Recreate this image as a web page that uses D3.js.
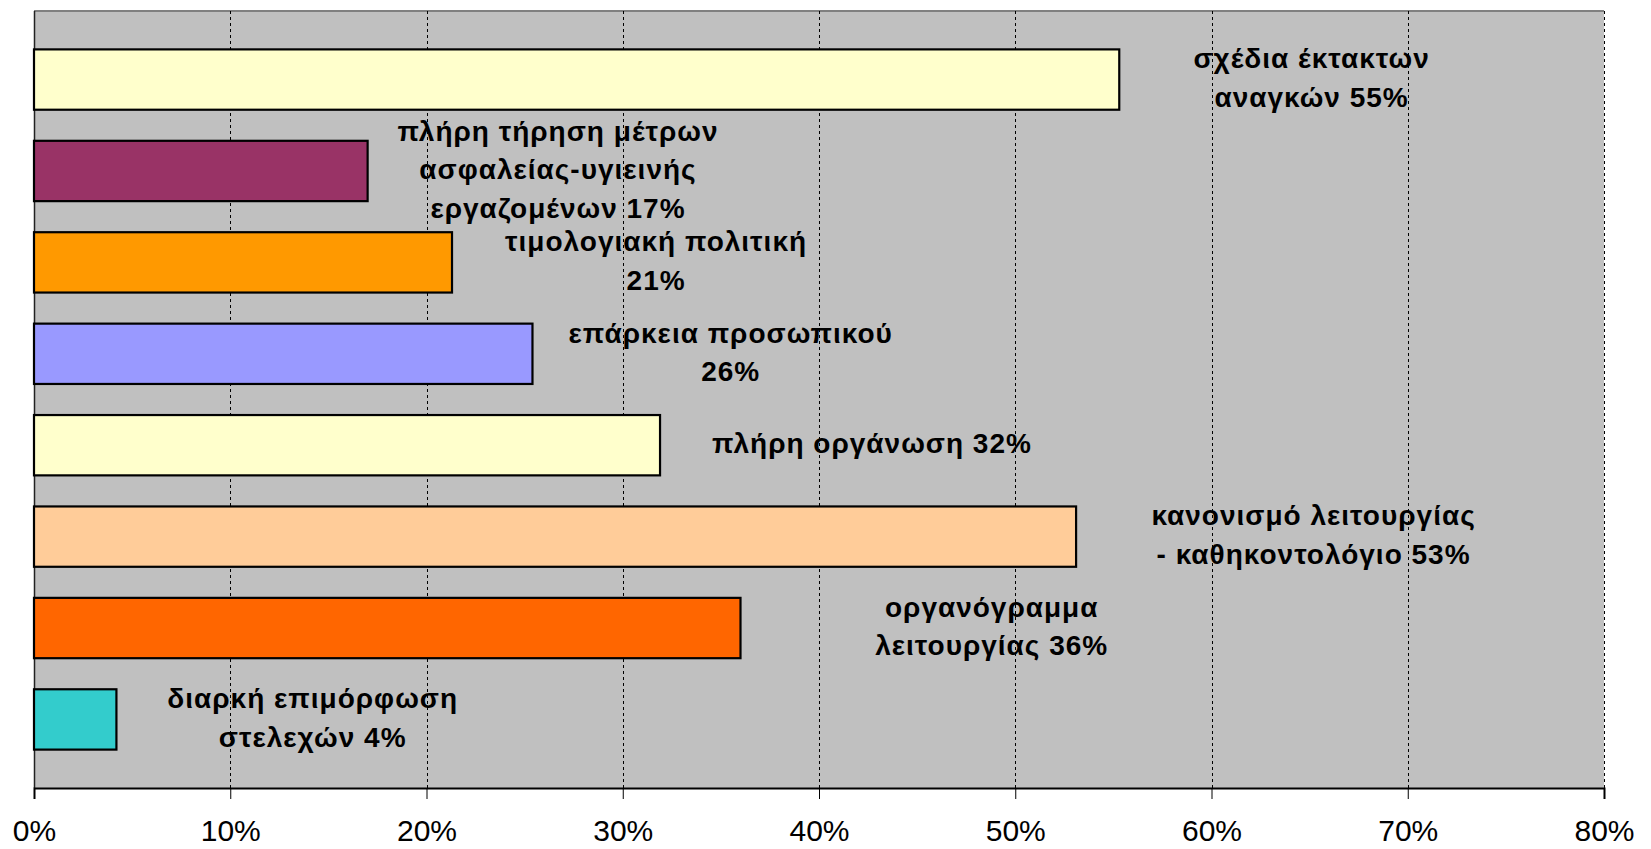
<!DOCTYPE html>
<html lang="el">
<head>
<meta charset="utf-8">
<script src="https://d3js.org/d3.v7.min.js"></script>
<style>
  body { margin: 0; background: #fff; }
  text { font-family: "Liberation Sans", Arial, sans-serif; }
</style>
</head>
<body>
<script>
// bars, top to bottom
var categories = ["σχέδια έκτακτων αναγκών",
  "πλήρη τήρηση μέτρων ασφαλείας-υγιεινής εργαζομένων",
  "τιμολογιακή πολιτική",
  "επάρκεια προσωπικού",
  "πλήρη οργάνωση",
  "κανονισμό λειτουργίας - καθηκοντολόγιο",
  "οργανόγραμμα λειτουργίας",
  "διαρκή επιμόρφωση στελεχών"];
var values = [55.3, 17.0, 21.3, 25.4, 31.9, 53.1, 36.0, 4.2];
var labelLines = [
  ["σχέδια έκτακτων", "αναγκών 55%"],
  ["πλήρη τήρηση μέτρων", "ασφαλείας-υγιεινής", "εργαζομένων 17%"],
  ["τιμολογιακή πολιτική", "21%"],
  ["επάρκεια προσωπικού", "26%"],
  ["πλήρη οργάνωση 32%"],
  ["κανονισμό λειτουργίας", "- καθηκοντολόγιο 53%"],
  ["οργανόγραμμα", "λειτουργίας 36%"],
  ["διαρκή επιμόρφωση", "στελεχών 4%"]];
var colors = ["#FFFFCC", "#993366", "#FF9900", "#9999FF", "#FFFFCC", "#FFCC99", "#FF6600", "#33CCCC"];
var ticks = [0, 10, 20, 30, 40, 50, 60, 70, 80];
// where each label is centred, in axis units (%)
var labelAt = [65.1, 26.7, 31.7, 35.5, 42.7, 65.2, 48.8, 14.2];

var W = 1651, H = 849;
var pLeft = 34, pRight = 1604, pTop = 11, pBottom = 788;

var svg = d3.select("body").append("svg")
    .attr("width", W)
    .attr("height", H);

var x = d3.scaleLinear().domain([0, 80]).range([pLeft, pRight]);
var y = d3.scaleBand().domain(categories).range([pTop, pBottom])
    .paddingInner(0.34)
    .paddingOuter(0.42);

svg.append("rect")
    .attr("x", pLeft).attr("y", pTop)
    .attr("width", pRight - pLeft).attr("height", pBottom - pTop)
    .attr("fill", "#C0C0C0");

// top border
svg.append("line")
    .attr("x1", pLeft).attr("x2", pRight)
    .attr("y1", pTop).attr("y2", pTop)
    .attr("stroke", "#808080").attr("stroke-width", 2);

// dashed gridlines
svg.selectAll(".grid")
    .data(ticks.slice(1))
    .enter().append("line")
    .attr("class", "grid")
    .attr("x1", function(d) { return Math.round(x(d)) + 0.5; })
    .attr("x2", function(d) { return Math.round(x(d)) + 0.5; })
    .attr("y1", pTop).attr("y2", pBottom)
    .attr("stroke", "#000")
    .attr("stroke-width", 1)
    .attr("stroke-dasharray", "3,3");

// left edge
svg.append("line")
    .attr("x1", pLeft + 0.5).attr("x2", pLeft + 0.5)
    .attr("y1", pTop).attr("y2", pBottom)
    .attr("stroke", "#222").attr("stroke-width", 1.5);

svg.selectAll(".bar")
    .data(values)
    .enter().append("rect")
    .attr("class", "bar")
    .attr("x", x(0))
    .attr("y", function(d, i) { return y(categories[i]); })
    .attr("width", function(d) { return x(d) - x(0); })
    .attr("height", y.bandwidth())
    .attr("fill", function(d, i) { return colors[i]; })
    .attr("stroke", "#000")
    .attr("stroke-width", 2.2);

// x axis
var axis = svg.append("g")
    .attr("transform", "translate(0," + pBottom + ")")
    .call(d3.axisBottom(x)
        .tickValues(ticks)
        .tickSize(11)
        .tickPadding(21)
        .tickFormat(function(d) { return d + "%"; }));
axis.select(".domain").attr("stroke", "#000").attr("stroke-width", 2);
axis.selectAll(".tick line").attr("stroke", "#000").attr("stroke-width", 1);
axis.selectAll(".tick text")
    .attr("font-size", 30)
    .attr("font-family", "Liberation Sans, Arial, sans-serif")
    .attr("fill", "#000");

// data labels
var lineH = 38.5;
var lab = svg.selectAll(".lab")
    .data(labelLines)
    .enter().append("text")
    .attr("class", "lab")
    .attr("text-anchor", "middle")
    .attr("font-size", 28)
    .attr("font-weight", "bold")
    .attr("letter-spacing", 1)
    .attr("fill", "#000");

lab.each(function(lines, i) {
  var cy = y(categories[i]) + y.bandwidth() / 2 - 2;
  var y0 = cy - (lines.length - 1) * lineH / 2;
  d3.select(this).selectAll("tspan")
      .data(lines)
      .enter().append("tspan")
      .attr("x", x(labelAt[i]))
      .attr("y", function(d, j) { return y0 + j * lineH; })
      .attr("dy", "0.36em")
      .text(function(d) { return d; });
});
</script>
</body>
</html>
